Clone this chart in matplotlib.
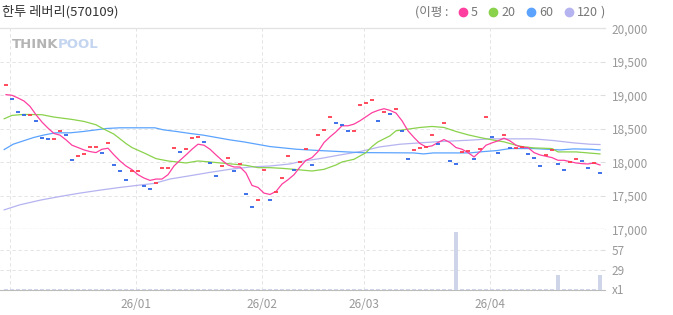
import matplotlib.pyplot as plt
from matplotlib.lines import Line2D

plt.rcParams['font.family'] = ['Noto Sans CJK KR', 'DejaVu Sans']

# closing prices per trading day (2025-11-28 .. 2026-04-27)
close = [19150, 18940, 18750, 18700, 18700, 18610, 18365, 18350, 18350, 18470,
         18410, 18035, 18095, 18125, 18230, 18230, 18140, 18290, 17960, 17870,
         17730, 17870, 17870, 17640, 17600, 17690, 17915, 17915, 18215, 18155,
         18200, 18365, 18380, 18305, 17990, 17790, 17945, 18065, 17870, 17975,
         17520, 17340, 17430, 17880, 17430, 17550, 17760, 18095, 17880, 18000,
         18200, 17960, 18410, 18485, 18670, 18580, 18560, 18470, 18470, 18850,
         18880, 18925, 18610, 18745, 18715, 18790, 18470, 18050, 18185, 18215,
         18230, 18410, 18275, 18580, 18020, 17975, 18155, 18170, 18050, 18200,
         18670, 18385, 18140, 18400, 18215, 18215, 18230, 18125, 18065, 17945,
         18110, 18185, 17975, 17880, 18000, 18050, 18020, 17915, 17990, 17840]
# candle direction: 1 = up (red), 0 = down (blue)
up = [1, 0, 0, 0, 1, 0, 0, 0, 1, 1,
      0, 0, 1, 1, 1, 1, 0, 1, 0, 0,
      0, 1, 1, 0, 0, 1, 1, 1, 1, 0,
      1, 1, 1, 0, 0, 0, 1, 1, 0, 1,
      0, 0, 1, 1, 0, 1, 1, 1, 0, 1,
      1, 0, 1, 1, 1, 0, 0, 0, 1, 1,
      1, 1, 0, 1, 0, 1, 0, 0, 1, 1,
      1, 1, 0, 1, 0, 0, 1, 1, 0, 1,
      1, 0, 0, 1, 0, 1, 1, 0, 0, 0,
      1, 1, 0, 0, 1, 1, 0, 0, 1, 0]

ma5 = [19010, 19000, 18960, 18915, 18835, 18710, 18600, 18510, 18430, 18405,
       18335, 18255, 18220, 18185, 18160, 18145, 18195, 18210, 18110, 18020,
       17945, 17890, 17815, 17765, 17730, 17750, 17750, 17815, 17945, 18030,
       18110, 18195, 18270, 18255, 18195, 18110, 18030, 17960, 17930, 17930,
       17840, 17655, 17625, 17540, 17520, 17565, 17675, 17740, 17815, 17930,
       18030, 18070, 18160, 18295, 18380, 18455, 18545, 18545, 18570, 18620,
       18680, 18740, 18775, 18800, 18775, 18735, 18620, 18470, 18370, 18280,
       18230, 18245, 18295, 18340, 18295, 18220, 18195, 18145, 18080, 18160,
       18255, 18290, 18320, 18360, 18320, 18255, 18220, 18220, 18145, 18110,
       18090, 18070, 18030, 18030, 18010, 17990, 17980, 17975, 17990, 17960]

ma20_x = [-0.3, 1, 3, 6, 8, 11, 13, 15, 16, 18, 20, 21, 23, 25, 27, 30, 32, 34,
          37, 40, 42, 44, 46, 48, 51, 53, 55, 56, 58, 60, 61, 62, 64, 65, 67,
          69, 71, 73, 75, 77, 79, 81, 83, 85, 86, 88, 91, 92, 95, 97, 99]
ma20 = [18650, 18700, 18715, 18710, 18675, 18640, 18610, 18560, 18510, 18420,
        18280, 18220, 18140, 18055, 18020, 17990, 18020, 18005, 17980, 17955,
        17920, 17920, 17910, 17895, 17870, 17895, 17960, 18005, 18045, 18145,
        18235, 18305, 18395, 18470, 18495, 18520, 18535, 18520, 18460, 18410,
        18370, 18335, 18305, 18255, 18235, 18215, 18205, 18155, 18155, 18140,
        18125]

ma60_x = [-0.3, 1.2, 2.9, 4.6, 6.2, 8.2, 10.7, 12.9, 15.1, 16.8, 19, 24.8,
          26.2, 28.4, 30.7, 32.9, 35.1, 37.3, 39.6, 41.8, 44, 46.2, 48.4, 52.3,
          55.7, 59, 67.9, 69.6, 71.2, 77.3, 79.6, 81.8, 84, 87.9, 92.3, 94.6,
          97.3, 99]
ma60 = [18190, 18270, 18320, 18370, 18405, 18440, 18440, 18460, 18485, 18505,
        18515, 18515, 18485, 18460, 18430, 18405, 18370, 18335, 18305, 18270,
        18235, 18215, 18195, 18175, 18160, 18145, 18140, 18125, 18140, 18140,
        18160, 18175, 18205, 18205, 18185, 18200, 18195, 18185]

ma120_x = [-0.3, 2.3, 5.7, 9, 12.3, 15.7, 19, 22.3, 24.7, 27.3, 30.7, 34, 37.3,
           40.7, 44, 47.3, 49, 52.3, 55.7, 59, 62.3, 65.7, 69, 72.3, 77.3, 80.7,
           87.9, 91.2, 94.6, 97.3, 99]
ma120 = [17290, 17365, 17435, 17490, 17540, 17585, 17625, 17660, 17685, 17750,
         17800, 17850, 17895, 17930, 17945, 17975, 18010, 18055, 18110, 18160,
         18230, 18270, 18290, 18310, 18330, 18350, 18350, 18325, 18290, 18270,
         18265]

volume = [2] * 100
volume[75] = 82
volume[92] = 21
volume[99] = 21

month_idx = [1, 22, 43, 60, 81]
month_lbl = ['', '26/01', '26/02', '26/03', '26/04']

price_ticks = [17000, 17500, 18000, 18500, 19000, 19500, 20000]
vol_ticks = [29, 57]

ma_names = ['5', '20', '60', '120']
ma_colors = ['#ff3fa0', '#8ad24c', '#5ba3ff', '#b5b3f0']

W, H = 673, 315
fig = plt.figure(figsize=(W / 100, H / 100), dpi=100)

x0, x1 = 0, 605
ax = fig.add_axes([x0 / W, 1 - 229.3 / H, (x1 - x0) / W, 201 / H])
vax = fig.add_axes([x0 / W, 1 - 290 / H, (x1 - x0) / W, 60.7 / H], sharex=ax)

days = list(range(len(close)))
grid_kw = dict(color='#e4e4e4', lw=0.72, ls=(0, (3.3, 2.7)), zorder=0)

# price panel
for y in price_ticks[1:-1]:
    ax.axhline(y, **grid_kw)
for m in month_idx:
    ax.axvline(m - 0.33, **grid_kw)
    vax.axvline(m - 0.33, **grid_kw)

ax.plot(ma120_x, ma120, color=ma_colors[3], lw=0.9)
ax.plot(ma60_x, ma60, color=ma_colors[2], lw=0.9)
ax.plot(ma20_x, ma20, color=ma_colors[1], lw=0.9)
ax.plot(days, ma5, color=ma_colors[0], lw=0.9)

cols = ['#ff3b4e' if u else '#2f66e8' for u in up]
ax.hlines(close, [d - 0.4 for d in days], [d + 0.4 for d in days],
          colors=cols, lw=1.3, zorder=5)

ax.set_xlim(-1, (x1 - 6) / 6)
ax.set_ylim(17000, 20000)
ax.yaxis.tick_right()
ax.set_yticks(price_ticks)
ax.set_yticklabels([f'{v:,}' for v in price_ticks])
ax.tick_params(axis='y', direction='in', length=3, color='#dddddd',
               labelcolor='#999999', labelsize=8.5, pad=5)
ax.tick_params(axis='x', bottom=False, labelbottom=False)
for s in ['left', 'right']:
    ax.spines[s].set_visible(False)
ax.spines['top'].set_color('#e2e2e2')
ax.spines['top'].set_linewidth(0.9)
ax.spines['bottom'].set_color('#9a9a9a')
ax.spines['bottom'].set_linewidth(0.8)
ax.spines['bottom'].set_linestyle((0, (3, 2)))

# volume panel
for y in vol_ticks:
    vax.axhline(y, **grid_kw)
vax.bar(days, volume, width=0.8, color='#cfd5e8', zorder=3)
vax.set_ylim(0, 86)
vax.yaxis.tick_right()
vax.set_yticks(vol_ticks)
vax.tick_params(axis='y', direction='in', length=3, color='#dddddd',
                labelcolor='#999999', labelsize=8.5, pad=5)
vax.set_xticks([m - 0.33 for m in month_idx])
vax.set_xticklabels(month_lbl)
vax.tick_params(axis='x', length=0, labelcolor='#999999', labelsize=8.5, pad=6)
for s in ['left', 'right', 'top']:
    vax.spines[s].set_visible(False)
vax.spines['bottom'].set_color('#bbbbbb')
fig.text(612 / W, 1 - 291 / H, 'x1', color='#999999', fontsize=8.5, va='center')

# title, watermark, legend
fig.text(2 / W, 1 - 12 / H, '한투 레버리(570109)', color='#333333', fontsize=9.5,
         va='center')
fig.text(12 / W, 1 - 44 / H, 'THINK', color='#b4b4b4', fontsize=9.5,
         fontweight='bold', va='center', family='DejaVu Sans')
fig.text(58 / W, 1 - 44 / H, 'POOL', color='#c4d5f0', fontsize=9.5,
         fontweight='bold', va='center', family='DejaVu Sans')

ly = 1 - 12 / H
fig.text(415 / W, ly, '(이평 :', color='#777777', fontsize=9, va='center')
dot_x = [463, 493, 531, 569]
for name, c, dx in zip(ma_names, ma_colors, dot_x):
    fig.add_artist(Line2D([dx / W], [ly], marker='o', ms=6, color=c,
                          transform=fig.transFigure))
    fig.text((dx + 8) / W, ly, name, color='#777777', fontsize=9, va='center')
fig.text(600 / W, ly, ')', color='#777777', fontsize=9, va='center')

fig.savefig('out.png', dpi=100)
